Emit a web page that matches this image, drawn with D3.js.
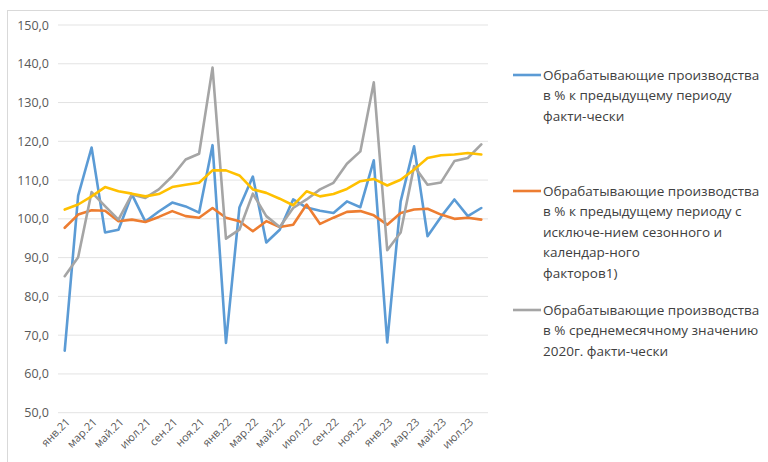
<!DOCTYPE html>
<html><head><meta charset="utf-8">
<script src="https://cdn.jsdelivr.net/npm/d3@7"></script>
<style>
html,body{margin:0;padding:0;background:#fff;}
svg{display:block;font-family:"Open Sans","Noto Sans",sans-serif;}
</style></head>
<body><svg id="c" width="768" height="462"></svg>
<script>
const months = ["янв.21","фев.21","мар.21","апр.21","май.21","июн.21","июл.21","авг.21","сен.21","окт.21","ноя.21","дек.21",
"янв.22","фев.22","мар.22","апр.22","май.22","июн.22","июл.22","авг.22","сен.22","окт.22","ноя.22","дек.22",
"янв.23","фев.23","мар.23","апр.23","май.23","июн.23","июл.23","авг.23"];
const blueValues = [66.0,106.0,118.4,96.5,97.2,106.3,99.3,101.9,104.2,103.2,101.6,119.0,
68.0,102.9,110.9,93.9,97.2,105.0,102.9,102.1,101.5,104.5,103.0,115.1,
68.1,104.5,118.7,95.5,100.5,105.0,100.7,102.8];
const orangeValues = [97.7,101.1,102.2,102.1,99.4,99.8,99.2,100.5,102.0,100.7,100.3,102.8,
100.3,99.4,96.8,99.4,97.9,98.5,103.7,98.7,100.3,101.8,102.0,100.9,
98.5,101.5,102.4,102.6,101.1,100.0,100.3,99.8];
const grayValues = [85.2,90.1,106.9,103.3,99.8,106.3,105.4,107.6,111.0,115.3,116.8,139.0,
94.9,97.2,106.5,100.7,97.9,102.8,105.0,107.6,109.3,114.2,117.4,135.2,
91.9,96.5,113.6,108.8,109.4,114.9,115.7,119.2];
const yellowValues = [102.4,103.7,105.8,108.2,107.1,106.5,105.8,106.4,108.2,108.8,109.3,112.5,
112.5,111.2,107.6,106.7,105.2,103.5,107.1,105.8,106.4,107.7,109.7,110.3,
108.6,110.1,112.7,115.7,116.4,116.6,117.0,116.6];
const yTicks = [50,60,70,80,90,100,110,120,130,140,150];
const legendBlue = ["Обрабатывающие производства","в % к предыдущему периоду","факти-чески"];
const legendOrange = ["Обрабатывающие производства","в % к предыдущему периоду с","исключе-нием сезонного и","календар-ного","факторов1)"];
const legendGray = ["Обрабатывающие производства","в % среднемесячному значению","2020г. факти-чески"];

const series = [
  {values: blueValues, color: "#5B9BD5", legend: legendBlue, ly: 75},
  {values: orangeValues, color: "#ED7D31", legend: legendOrange, ly: 191},
  {values: grayValues, color: "#A5A5A5", legend: legendGray, ly: 310},
  {values: yellowValues, color: "#FFC000", legend: null}
];

const svg = d3.select("#c");
svg.append("rect").attr("x",7.5).attr("y",10.5).attr("width",800).attr("height",500)
  .attr("fill","none").attr("stroke","#d9d9d9").attr("stroke-width",1);

const pLeft = 58, pRight = 488, pTop = 25, pBottom = 412.7;
const x = d3.scaleBand().domain(months).range([pLeft, pRight]);
const y = d3.scaleLinear().domain([50,150]).range([pBottom, pTop]);

// gridlines
svg.append("g").selectAll("line").data(yTicks).join("line")
  .attr("x1", pLeft).attr("x2", pRight)
  .attr("y1", d => y(d)).attr("y2", d => y(d))
  .attr("stroke", "#e3e3e3").attr("stroke-width", 1);

// y axis labels
const yAxis = d3.axisLeft(y).tickValues(yTicks).tickSize(0).tickPadding(0)
  .tickFormat(d => d3.format(".1f")(d).replace(".", ","));
const gy = svg.append("g").attr("transform", `translate(49,0)`).call(yAxis);
gy.select(".domain").remove();
gy.selectAll("text").attr("fill", "#595959").attr("font-size", 12.5)
  .attr("font-family", "'Open Sans','Noto Sans',sans-serif");

// x axis labels
const xAxis = d3.axisBottom(x).tickValues(months.filter((m,i)=> i%2===0)).tickSize(0).tickPadding(0);
const gx = svg.append("g").attr("transform", `translate(0,${pBottom})`).call(xAxis);
gx.select(".domain").remove();
gx.selectAll("text").attr("fill", "#595959").attr("font-size", 11)
  .attr("font-family", "'Open Sans','Noto Sans',sans-serif")
  .attr("text-anchor", "end")
  .attr("dy", null).attr("y", 0)
  .attr("transform", "translate(6,10) rotate(-45)");

const line = d3.line().x((d,i) => x(months[i]) + x.bandwidth()/2).y(d => y(d));
series.forEach(s => {
  svg.append("path").datum(s.values).attr("d", line)
    .attr("fill", "none").attr("stroke", s.color).attr("stroke-width", 2.6)
    .attr("stroke-linejoin", "round").attr("stroke-linecap", "round");
});

// legend
series.filter(s => s.legend).forEach(s => {
  svg.append("line").attr("x1", 513).attr("x2", 541).attr("y1", s.ly).attr("y2", s.ly)
    .attr("stroke", s.color).attr("stroke-width", 2.6);
  const t = svg.append("text").attr("x", 543).attr("y", s.ly + 5)
    .attr("fill", "#404040").attr("font-size", 13.5);
  s.legend.forEach((ln, i) => {
    t.append("tspan").attr("x", 543).attr("dy", i === 0 ? 0 : 20.4).text(ln);
  });
});
</script></body></html>
